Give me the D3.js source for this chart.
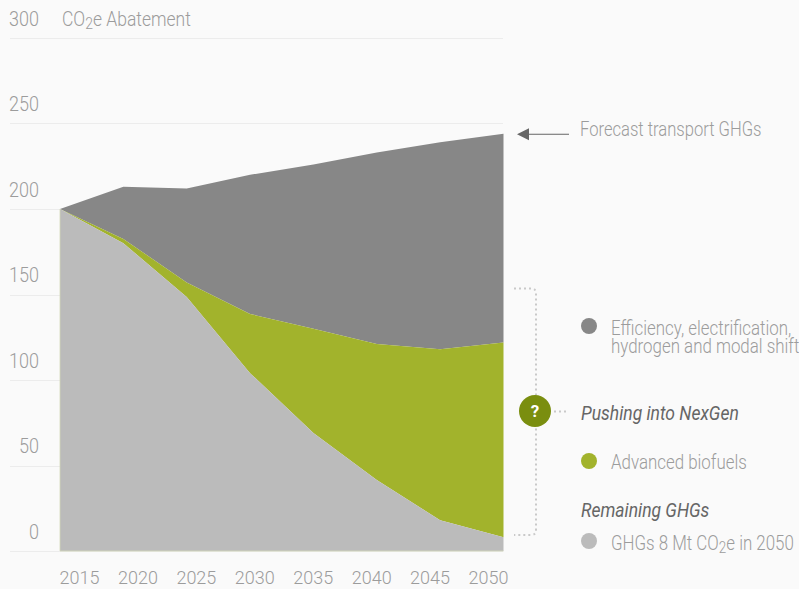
<!DOCTYPE html>
<html>
<head>
<meta charset="utf-8">
<script src="https://cdn.jsdelivr.net/npm/d3@7"></script>
<style>
  html, body { margin: 0; padding: 0; background: #fafafa; }
  svg { display: block; }
  text { font-family: "Roboto", sans-serif; font-weight: 300; fill: #9c9c9c; }
</style>
</head>
<body>
<div id="viz"></div>
<script>
var years = [2015, 2020, 2025, 2030, 2035, 2040, 2045, 2050];
var remaining = [200, 180, 148.5, 104, 69, 41.5, 18, 8];
var biofuels = [0, 2.5, 8.5, 34.6, 61, 79.5, 100, 114];
var efficiency = [0, 30.5, 55, 81.4, 96, 112, 121, 122];
var yTicks = [0, 50, 100, 150, 200, 250, 300];

var width = 799, height = 589;
var fontSize = 20;

var svg = d3.select("#viz").append("svg").attr("width", width).attr("height", height);

var x = d3.scalePoint().domain(years).range([60, 503.5]);
var xLabels = d3.scalePoint().domain(years).range([79.5, 488.5]);
var y = d3.scaleLinear().domain([0, 300]).range([551, 38]);

var rows = years.map(function (d, i) {
    return { year: d, remaining: remaining[i], biofuels: biofuels[i], efficiency: efficiency[i] };
});
var keys = ["remaining", "biofuels", "efficiency"];
var color = d3.scaleOrdinal().domain(keys).range(["#bbbbbb", "#a2b32c", "#878787"]);
var layers = d3.stack().keys(keys)(rows);

// Roboto is wider than the condensed face in the picture, so squeeze it
function label(txt, px, py, squeeze, anchor) {
    return svg.append("text")
        .attr("transform", "translate(" + px + "," + py + ") scale(" + squeeze + ",1)")
        .attr("text-anchor", anchor || "start")
        .style("font-size", fontSize + "px")
        .text(txt);
}

function co2(t, before, after) {
    t.text(before);
    t.append("tspan").attr("dy", 3).style("font-size", "0.8em").text("2");
    t.append("tspan").attr("dy", -3).text(after);
}

// grid
svg.selectAll(".grid").data(yTicks).enter().append("line")
    .attr("class", "grid")
    .attr("x1", 10).attr("x2", 503)
    .attr("y1", function (d) { return Math.round(y(d)) + 0.5; })
    .attr("y2", function (d) { return Math.round(y(d)) + 0.5; })
    .attr("stroke", "#ececec");

// areas
var area = d3.area()
    .x(function (d) { return x(d.data.year); })
    .y0(function (d) { return y(d[0]); })
    .y1(function (d) { return y(d[1]); });

svg.selectAll(".layer").data(layers.slice().reverse()).enter().append("path")
    .attr("class", "layer")
    .attr("d", area)
    .attr("fill", function (d) { return color(d.key); });

// pale edge left and under the areas
svg.append("path")
    .attr("d", "M" + x(2015) + "," + y(200) + "V" + y(0) + "H" + x(2050))
    .attr("fill", "none").attr("stroke", "#d3d8b8").attr("stroke-width", 0.8);

// axis labels
yTicks.forEach(function (d) {
    label(d, 39, y(d) - 12.5, 0.9, "end");
});
years.forEach(function (d) {
    label(d, xLabels(d), 584.4, 0.947, "middle").style("font-size", "19px");
});

co2(label("", 62, 26, 0.875), "CO", "e Abatement");

// forecast arrow
var arrowY = y(remaining[7] + biofuels[7] + efficiency[7]);
svg.append("line").attr("x1", 528).attr("x2", 569)
    .attr("y1", arrowY + 0.5).attr("y2", arrowY + 0.5)
    .attr("stroke", "#666").attr("stroke-width", 1);
svg.append("path")
    .attr("d", "M517," + (arrowY + 0.5) + "L529," + (arrowY - 5.5) + "V" + (arrowY + 6.5) + "Z")
    .attr("fill", "#666");
label("Forecast transport GHGs", 580, 136, 0.83);

// dotted bracket
svg.append("path")
    .attr("d", "M514,288.5H531Q536,288.5 536,293.5V530Q536,535 531,535H514")
    .attr("fill", "none").attr("stroke", "#c9c9c9")
    .attr("stroke-width", 2).attr("stroke-dasharray", "2 3");
svg.append("path").attr("d", "M554,411.5H569")
    .attr("fill", "none").attr("stroke", "#c9c9c9")
    .attr("stroke-width", 2).attr("stroke-dasharray", "2 3");
svg.append("circle").attr("cx", 535).attr("cy", 411).attr("r", 16).attr("fill", "#7a8e0f");
svg.append("text").attr("x", 535).attr("y", 417).attr("text-anchor", "middle")
    .style("font-size", "17px").style("font-weight", 700).style("fill", "#fff").text("?");

// legend
svg.append("circle").attr("cx", 589).attr("cy", 326).attr("r", 8).attr("fill", color("efficiency"));
svg.append("circle").attr("cx", 589).attr("cy", 461).attr("r", 8).attr("fill", color("biofuels"));
svg.append("circle").attr("cx", 589).attr("cy", 541).attr("r", 8).attr("fill", color("remaining"));

var twoLines = label("Efficiency, electrification,", 611, 335, 0.845);
twoLines.append("tspan").attr("x", 0).attr("dy", 18).text("hydrogen and modal shift");
label("Advanced biofuels", 611, 469, 0.845);
co2(label("", 611, 550, 0.845), "GHGs 8 Mt CO", "e in 2050");

label("Pushing into NexGen", 581, 420, 0.875)
    .style("font-style", "italic").style("font-weight", 400).style("fill", "#666");
label("Remaining GHGs", 581, 517, 0.875)
    .style("font-style", "italic").style("font-weight", 400).style("fill", "#666");
</script>
</body>
</html>
